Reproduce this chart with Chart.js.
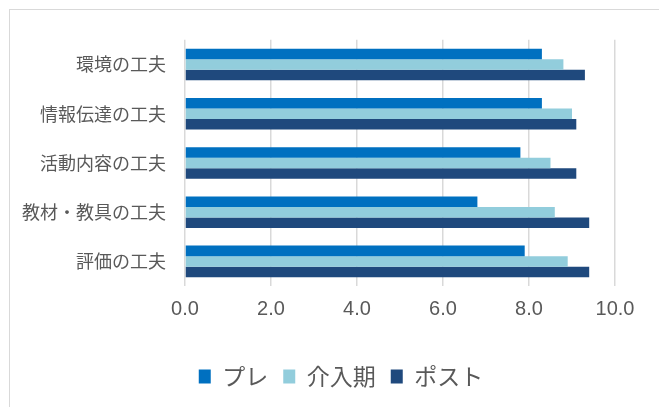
<!DOCTYPE html>
<html>
<head>
<meta charset="utf-8">
<script src="https://cdn.jsdelivr.net/npm/chart.js@4"></script>
<style>
    html, body { margin: 0; padding: 0; background: #fff; overflow: hidden; }
    #frame {
        position: absolute; left: 9px; top: 9px;
        width: 664px; height: 410px;
        border-left: 1.5px solid #d9d9d9;
        border-top: 1.5px solid #d9d9d9;
    }
    #chart_box { position: absolute; left: 10px; top: 10px; width: 662px; height: 397px; }
</style>
</head>
<body>
<div id="frame"></div>
<div id="chart_box"><canvas id="bar_chart"></canvas></div>
<script>
const categories = ['環境の工夫', '情報伝達の工夫', '活動内容の工夫', '教材・教具の工夫', '評価の工夫'];
const pre_values = [8.3, 8.3, 7.8, 6.8, 7.9];
const intervention_values = [8.8, 9.0, 8.5, 8.6, 8.9];
const post_values = [9.3, 9.1, 9.1, 9.4, 9.4];
const series_names = ['プレ', '介入期', 'ポスト'];

const jp_font = "'Noto Sans CJK JP', 'Noto Sans', sans-serif";
const num_font = "'Liberation Sans', 'Noto Sans', sans-serif";
const text_color = '#595959';

const canvas = document.getElementById('bar_chart');

const bar_chart = new Chart(canvas, {
    type: 'bar',
    data: {
        labels: categories,
        datasets: [
            { label: series_names[0], data: pre_values, backgroundColor: '#0070C0' },
            { label: series_names[1], data: intervention_values, backgroundColor: '#92CDDC' },
            { label: series_names[2], data: post_values, backgroundColor: '#1F497D' }
        ]
    },
    options: {
        indexAxis: 'y',
        responsive: true,
        maintainAspectRatio: false,
        animation: false,
        datasets: {
            bar: { categoryPercentage: 0.64, barPercentage: 1.0 }
        },
        layout: {
            padding: { top: 27, right: 0, bottom: 9, left: 0 }
        },
        scales: {
            x: {
                min: 0,
                max: 10,
                ticks: {
                    stepSize: 2,
                    padding: 11,
                    color: text_color,
                    font: { family: num_font, size: 20 },
                    callback: (value) => value.toFixed(1)
                },
                grid: { color: '#d9d9d9', lineWidth: 1.5, drawTicks: false },
                border: { display: false },
                afterFit: (scale) => { scale.height = 64; }
            },
            y: {
                ticks: {
                    padding: 19,
                    color: text_color,
                    font: { family: jp_font, size: 18 }
                },
                grid: { display: false, drawTicks: false },
                border: { display: false },
                afterFit: (scale) => { scale.width = 175; }
            },
            // empty right-hand axis, only reserves space so the legend stays centred
            spacer: {
                type: 'linear',
                position: 'right',
                ticks: { display: false },
                grid: { display: false, drawTicks: false },
                border: { display: false },
                afterFit: (scale) => { scale.width = 57; }
            }
        },
        plugins: {
            legend: {
                position: 'bottom',
                labels: {
                    boxWidth: 12,
                    boxHeight: 14,
                    padding: 15,
                    color: text_color,
                    font: { family: jp_font, size: 23 }
                }
            },
            tooltip: { enabled: false }
        }
    }
});
</script>
</body>
</html>
